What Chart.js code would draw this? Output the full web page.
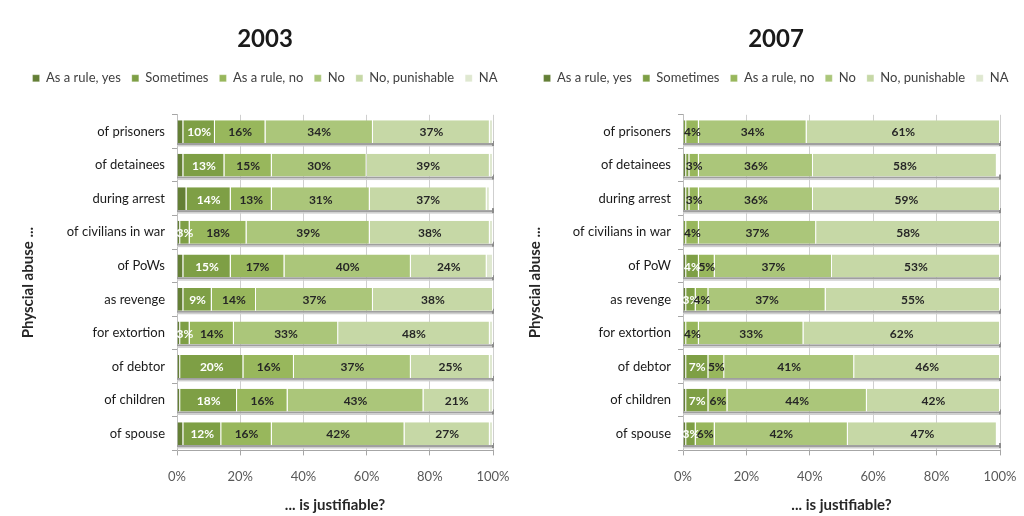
<!DOCTYPE html>
<html>
<head>
<meta charset="utf-8">
<script src="https://cdn.jsdelivr.net/npm/chart.js@4.4.1/dist/chart.umd.min.js"></script>
<style>
  html, body { margin: 0; padding: 0; background: #fff; }
  #wrap { position: relative; width: 1024px; height: 516px; overflow: hidden; }
  canvas { position: absolute; top: 0; }
  #c2003 { left: 0; }
  #c2007 { left: 512px; }
</style>
</head>
<body>
<div id="wrap">
  <canvas id="c2003" width="512" height="516"></canvas>
  <canvas id="c2007" width="512" height="516"></canvas>
</div>
<script>
// Answer categories (stack order, left to right)
const seriesNames = ['As a rule, yes', 'Sometimes', 'As a rule, no', 'No', 'No, punishable', 'NA'];
const seriesColors = ['#647f36', '#7e9f45', '#98b75c', '#abc67a', '#c6d8a6', '#dfe8d0'];

const categories2003 = ['of prisoners', 'of detainees', 'during arrest', 'of civilians in war', 'of PoWs',
                        'as revenge', 'for extortion', 'of debtor', 'of children', 'of spouse'];
const categories2007 = ['of prisoners', 'of detainees', 'during arrest', 'of civilians in war', 'of PoW',
                        'as revenge', 'for extortion', 'of debtor', 'of children', 'of spouse'];

// 2003 survey, percent of respondents
const ruleYes2003   = [2, 2, 3, 1, 2, 2, 1, 1, 1, 2];
const sometimes2003 = [10, 13, 14, 3, 15, 9, 3, 20, 18, 12];
const ruleNo2003    = [16, 15, 13, 18, 17, 14, 14, 16, 16, 16];
const no2003        = [34, 30, 31, 39, 40, 37, 33, 37, 43, 42];
const punish2003    = [37, 39, 37, 38, 24, 38, 48, 25, 21, 27];
const na2003        = [1, 1, 1, 1, 2, 0, 1, 1, 1, 1];

// 2007 survey, percent of respondents
const ruleYes2007   = [0, 1, 1, 0, 1, 1, 0, 1, 1, 1];
const sometimes2007 = [1, 1, 1, 1, 4, 3, 1, 7, 7, 3];
const ruleNo2007    = [4, 3, 3, 4, 5, 4, 4, 5, 6, 6];
const no2007        = [34, 36, 36, 37, 37, 37, 33, 41, 44, 42];
const punish2007    = [61, 58, 59, 58, 53, 55, 62, 46, 42, 47];
const na2007        = [0, 0, 0, 0, 0, 0, 0, 0, 0, 0];

const xTicks = [0, 20, 40, 60, 80, 100];

const FONT = 'Lato, "Open Sans", sans-serif';

// Percent labels inside the middle four segments
const segmentLabels = {
  id: 'segmentLabels',
  afterDatasetsDraw(chart) {
    const ctx = chart.ctx;
    ctx.save();
    ctx.font = 'bold 12px ' + FONT;
    ctx.textAlign = 'center';
    ctx.textBaseline = 'middle';
    chart.data.datasets.forEach((ds, di) => {
      if (di < 1 || di > 4) return;
      const meta = chart.getDatasetMeta(di);
      meta.data.forEach((bar, i) => {
        const v = ds.data[i];
        if (v < 3) return;
        ctx.fillStyle = di === 1 ? '#ffffff' : '#262626';
        ctx.fillText(v + '%', (bar.x + bar.base) / 2, bar.y + 1);
      });
    });
    ctx.restore();
  }
};

// Grey floor strip under each bar row
const barFloor = {
  id: 'barFloor',
  beforeDatasetsDraw(chart) {
    const meta = chart.getDatasetMeta(0);
    const xs = chart.scales.x;
    const x0 = xs.getPixelForValue(0);
    const x1 = xs.getPixelForValue(100);
    const ctx = chart.ctx;
    ctx.save();
    meta.data.forEach(bar => {
      const h = bar.height;
      const yb = bar.y + h / 2;
      ctx.fillStyle = '#9f9f9f';
      ctx.fillRect(x0, yb, x1 - x0 + 1, 2);
      ctx.fillStyle = '#cfcfcf';
      ctx.fillRect(x0, yb + 2, x1 - x0 + 1, 1.5);
      ctx.fillStyle = '#8c8c8c';
      ctx.fillRect(x1 - 1, yb - 2, 2, 5);
    });
    ctx.restore();
  }
};

// Extra space between the legend row and the plot
const legendGap = {
  id: 'legendGap',
  beforeLayout(chart) {
    const lg = chart.legend;
    if (lg && !lg._gapAdded) {
      const fit = lg.fit;
      lg.fit = function () { fit.call(this); this.height += 20; };
      lg._gapAdded = true;
    }
  }
};

function makeChart(canvasId, year, categories, values, opts) {
  const datasets = values.map((arr, i) => ({
    label: seriesNames[i],
    data: arr,
    backgroundColor: seriesColors[i],
    borderColor: '#ffffff',
    borderWidth: { top: 0, bottom: 0, left: 0, right: 1 },
    borderSkipped: false,
    barPercentage: 0.68,
    categoryPercentage: 1.0
  }));
  return new Chart(document.getElementById(canvasId), {
    type: 'bar',
    data: { labels: categories, datasets },
    plugins: [barFloor, segmentLabels, legendGap],
    options: {
      indexAxis: 'y',
      responsive: false,
      animation: false,
      layout: { padding: { left: opts.padLeft, right: 0, top: 11, bottom: 0 } },
      plugins: {
        title: {
          display: true,
          text: year,
          color: '#1a1a1a',
          font: { family: FONT, size: 24, weight: 'bold' },
          padding: { top: 14, bottom: 7 }
        },
        legend: {
          position: 'top',
          labels: {
            boxWidth: 7,
            boxHeight: 7,
            color: '#404040',
            font: { family: FONT, size: 13 },
            padding: 11
          }
        },
        tooltip: { enabled: false }
      },
      scales: {
        x: {
          stacked: true,
          min: 0,
          max: 100,
          afterBuildTicks(scale) { scale.ticks = xTicks.map(v => ({ value: v })); },
          afterFit(scale) { scale.paddingRight = opts.areaRight; },
          ticks: {
            callback: v => v + '%',
            color: '#595959',
            font: { family: FONT, size: 13 },
            padding: 14
          },
          grid: { color: '#cfcfcf', tickColor: '#a6a6a6', tickLength: 5 },
          border: { color: '#a6a6a6' },
          title: {
            display: true,
            text: '... is justifiable?',
            color: '#262626',
            font: { family: FONT, size: 15, weight: 'bold' },
            padding: { top: -3, bottom: 2 }
          }
        },
        y: {
          stacked: true,
          afterFit(scale) { scale.width = opts.yWidth; },
          ticks: {
            color: '#1a1a1a',
            font: { family: FONT, size: 13 },
            padding: 7
          },
          grid: { drawOnChartArea: false, offset: true, tickLength: 5, color: '#a6a6a6' },
          border: { color: '#bfbfbf' },
          title: {
            display: true,
            text: 'Physcial abuse ...',
            color: '#262626',
            font: { family: FONT, size: 15, weight: 'bold' },
            padding: { top: opts.yTitlePad, bottom: 0 }
          }
        }
      }
    }
  });
}

makeChart('c2003', '2003', categories2003,
  [ruleYes2003, sometimes2003, ruleNo2003, no2003, punish2003, na2003],
  { padLeft: 18, areaRight: 19, yWidth: 159, yTitlePad: 1 });

makeChart('c2007', '2007', categories2007,
  [ruleYes2007, sometimes2007, ruleNo2007, no2007, punish2007, na2007],
  { padLeft: 16, areaRight: 24, yWidth: 155, yTitlePad: -2 });
</script>
</body>
</html>
